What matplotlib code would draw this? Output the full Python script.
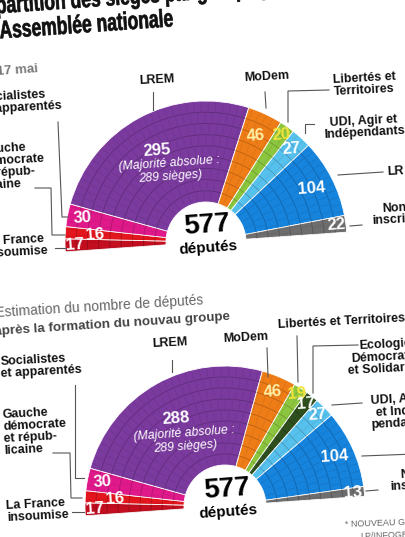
"""
Répartition des sièges par groupe politique à l'Assemblée nationale
"""
import numpy as np
import matplotlib.pyplot as plt
from matplotlib.patches import Wedge, Arc, PathPatch
from matplotlib.textpath import TextPath
from matplotlib.font_manager import FontProperties
from matplotlib.transforms import Affine2D

plt.rcParams['font.family'] = ['Liberation Sans', 'DejaVu Sans']
plt.rcParams['lines.scale_dashes'] = False

# données : 17 mai
groupes_mai = ['La France insoumise', 'Gauche démocrate et républicaine',
               'Socialistes et apparentés', 'LREM', 'MoDem',
               'Libertés et Territoires', 'UDI, Agir et Indépendants',
               'LR', 'Non inscrits']
sieges_mai = [17, 16, 30, 295, 46, 20, 27, 104, 22]

# données : après la formation du nouveau groupe
groupes_apres = ['La France insoumise', 'Gauche démocrate et républicaine',
                 'Socialistes et apparentés', 'LREM', 'MoDem',
                 'Libertés et Territoires', 'Ecologie Démocratie et Solidarité',
                 'UDI, Agir et Indépendants', 'LR', 'Non inscrits']
sieges_apres = [17, 16, 30, 288, 46, 19, 17, 27, 104, 13]

couleurs = {
    'La France insoumise': '#c20e1f',
    'Gauche démocrate et républicaine': '#e3161d',
    'Socialistes et apparentés': '#e0198b',
    'LREM': '#7b3a9e',
    'MoDem': '#ef7d17',
    'Libertés et Territoires': '#8cc63e',
    'Ecologie Démocratie et Solidarité': '#2f4f1f',
    'UDI, Agir et Indépendants': '#57c1ee',
    'LR': '#1683dc',
    'Non inscrits': '#6e6e6e',
}
couleurs_chiffres = {'MoDem': '#fff1a8', 'Libertés et Territoires': '#f3e43c'}

TILT = 4


def hemicycle(ax, cx, cy, R, r, groupes, sieges, rayons_txt):
    total = sum(sieges)
    bords = TILT + 180 - np.cumsum([0] + sieges) / total * 180
    for i, g in enumerate(groupes):
        a1, a2 = bords[i + 1], bords[i]
        ax.add_patch(Wedge((cx, cy), R, -a2, -a1, width=R - r,
                           facecolor=couleurs[g], edgecolor='white', linewidth=0.6))
    # rangées de sièges
    nrows = 9
    for k in range(1, nrows):
        rr = r + k * (R - r) / nrows
        ax.add_patch(Arc((cx, cy), 2 * rr, 2 * rr, theta1=-(TILT + 180), theta2=-TILT,
                         color='black', alpha=0.2, lw=0.7))
    for k in range(nrows):
        rr = r + (k + 0.5) * (R - r) / nrows
        ax.add_patch(Arc((cx, cy), 2 * rr, 2 * rr, theta1=-(TILT + 180), theta2=-TILT,
                         color='black', alpha=0.07, lw=6, ls=(0, (0.7, 4.5))))
    # chiffres
    milieux = (bords[:-1] + bords[1:]) / 2
    for g, n, a, f in zip(groupes, sieges, milieux, rayons_txt):
        x = cx + f * R * np.cos(np.radians(a))
        y = cy - f * R * np.sin(np.radians(a))
        ax.text(x, y, str(n), color=couleurs_chiffres.get(g, 'white'), fontsize=12,
                fontweight='bold', ha='center', va='center', rotation=TILT)
    return milieux


def titre_etroit(ax, x, y, s, taille=25, etirement=0.7):
    # texte condensé : le chemin du texte est comprimé horizontalement
    tp = TextPath((0, 0), s, size=taille,
                  prop=FontProperties(family='Liberation Sans', weight='bold'))
    tr = Affine2D().scale(etirement, -1).rotate_deg(-TILT).translate(x, y)
    ax.add_patch(PathPatch(tr.transform_path(tp), facecolor='#111111',
                           edgecolor='#111111', linewidth=0.5))


fig = plt.figure(figsize=(4.06, 5.37), dpi=100)
ax = fig.add_axes([0, 0, 1, 1])
ax.set_xlim(0, 406)
ax.set_ylim(537, 0)
ax.axis('off')

lbl = dict(fontsize=9, fontweight='bold', color='#111111', rotation=3,
           linespacing=1.0, va='center')
trait = dict(color='#555555', lw=0.8)

# titre
titre_etroit(ax, -26, 15, 'Répartition des sièges par groupe politique à')
titre_etroit(ax, -9, 39, "l'Assemblée nationale")
ax.text(-3, 72, '17 mai', fontsize=9.5, fontweight='bold', color='#777777',
        rotation=TILT, rotation_mode='anchor', va='center')

# ---- hémicycle du 17 mai
hemicycle(ax, 206, 242, 141, 40, groupes_mai, sieges_mai,
          [0.93, 0.79, 0.89, 0.74, 0.83, 0.93, 0.9, 0.84, 0.93])
ax.text(170, 170, '(Majorité absolue :\n289 sièges)', color='white', fontsize=8.8,
        style='italic', ha='center', va='center', rotation=TILT, linespacing=1.1)
ax.text(207, 225, '577', fontsize=20, fontweight='bold', ha='center', va='center',
        rotation=TILT)
ax.text(208, 248, 'députés', fontsize=11, fontweight='bold', ha='center',
        va='center', rotation=TILT)

ax.text(157, 80, 'LREM', ha='center', **lbl)
ax.plot([153, 153], [92, 110], **trait)
ax.text(267, 77, 'MoDem', ha='center', **lbl)
ax.plot([265, 266], [92, 108], **trait)
ax.text(333, 84, 'Libertés et\nTerritoires', ha='left', **lbl)
ax.plot([329, 288, 288], [90, 91, 122], **trait)
ax.text(364, 127, 'UDI, Agir et\nIndépendants', ha='center', multialignment='center', **lbl)
ax.plot([314, 305, 305], [124, 124, 133], **trait)
ax.text(387, 172, 'LR', ha='left', **lbl)
ax.plot([383, 338], [172, 175], **trait)
ax.text(394, 214, 'Non\ninscrits', ha='center', multialignment='center', **lbl)
ax.plot([362, 350], [225, 226], **trait)
ax.text(-20, 102, 'Socialistes\net apparentés', ha='left', **lbl)
ax.plot([58, 62, 68], [122, 217, 217], **trait)
ax.text(-20, 166, 'Gauche\ndémocrate\net répub-\nlicaine', ha='left', **lbl)
ax.plot([35, 51, 52, 65], [188, 188, 235, 235], **trait)
ax.text(-15, 246, 'La France\ninsoumise', ha='left', **lbl)
ax.plot([55, 66], [248, 248], **trait)

# ---- hémicycle estimé
ax.text(-4, 313, 'Estimation du nombre de députés', fontsize=10, color='#666666',
        rotation=3.5, rotation_mode='anchor', va='center')
ax.text(-5, 332, 'après la formation du nouvau groupe', fontsize=9.6,
        fontweight='bold', color='#444444', rotation=3.7, rotation_mode='anchor',
        va='center')

hemicycle(ax, 225, 506, 140, 41, groupes_apres, sieges_apres,
          [0.93, 0.79, 0.89, 0.72, 0.88, 0.95, 0.93, 0.93, 0.86, 0.92])
ax.text(185, 440, '(Majorité absolue :\n289 sièges)', color='white', fontsize=8.8,
        style='italic', ha='center', va='center', rotation=TILT, linespacing=1.1)
ax.text(227, 489, '577', fontsize=20, fontweight='bold', ha='center', va='center',
        rotation=TILT)
ax.text(228, 512, 'députés', fontsize=11, fontweight='bold', ha='center',
        va='center', rotation=TILT)

ax.text(170, 343, 'LREM', ha='center', **lbl)
ax.plot([172, 172], [360, 372], **trait)
ax.text(246, 338, 'MoDem', ha='center', **lbl)
ax.plot([267, 268], [348, 377], **trait)
ax.text(278, 322, 'Libertés et Territoires', ha='left', **lbl)
ax.plot([297, 298], [336, 382], **trait)
ax.text(385, 357, 'Ecologie\nDémocratie\net Solidarité*', ha='center',
        multialignment='center', **lbl)
ax.plot([358, 313, 313], [345, 346, 393], **trait)
ax.text(398, 412, 'UDI, Agir\net Indé-\npendants', ha='center',
        multialignment='center', **lbl)
ax.plot([362, 332], [403, 405], **trait)
ax.text(418, 453, 'LR', ha='left', **lbl)
ax.plot([415, 362], [454, 456], **trait)
ax.text(412, 480, 'Non\ninscrits', ha='center', multialignment='center', **lbl)
ax.plot([378, 366], [490, 491], **trait)
ax.text(0, 366, 'Socialistes\net apparentés', ha='left', **lbl)
ax.plot([75, 75, 84], [385, 478, 478], **trait)
ax.text(2, 431, 'Gauche\ndémocrate\net répub-\nlicaine', ha='left', **lbl)
ax.plot([53, 70, 71, 82], [453, 453, 498, 498], **trait)
ax.text(6, 510, 'La France\ninsoumise', ha='left', **lbl)
ax.plot([72, 84], [512, 512], **trait)

ax.text(345, 523, '* NOUVEAU GROUPE', fontsize=6.5, color='#666666', va='center',
        rotation=2)
ax.text(360, 535, 'LP/INFOGRAPHIE', fontsize=6.5, color='#666666', va='center',
        rotation=2)

plt.savefig('out.png', dpi=100)
